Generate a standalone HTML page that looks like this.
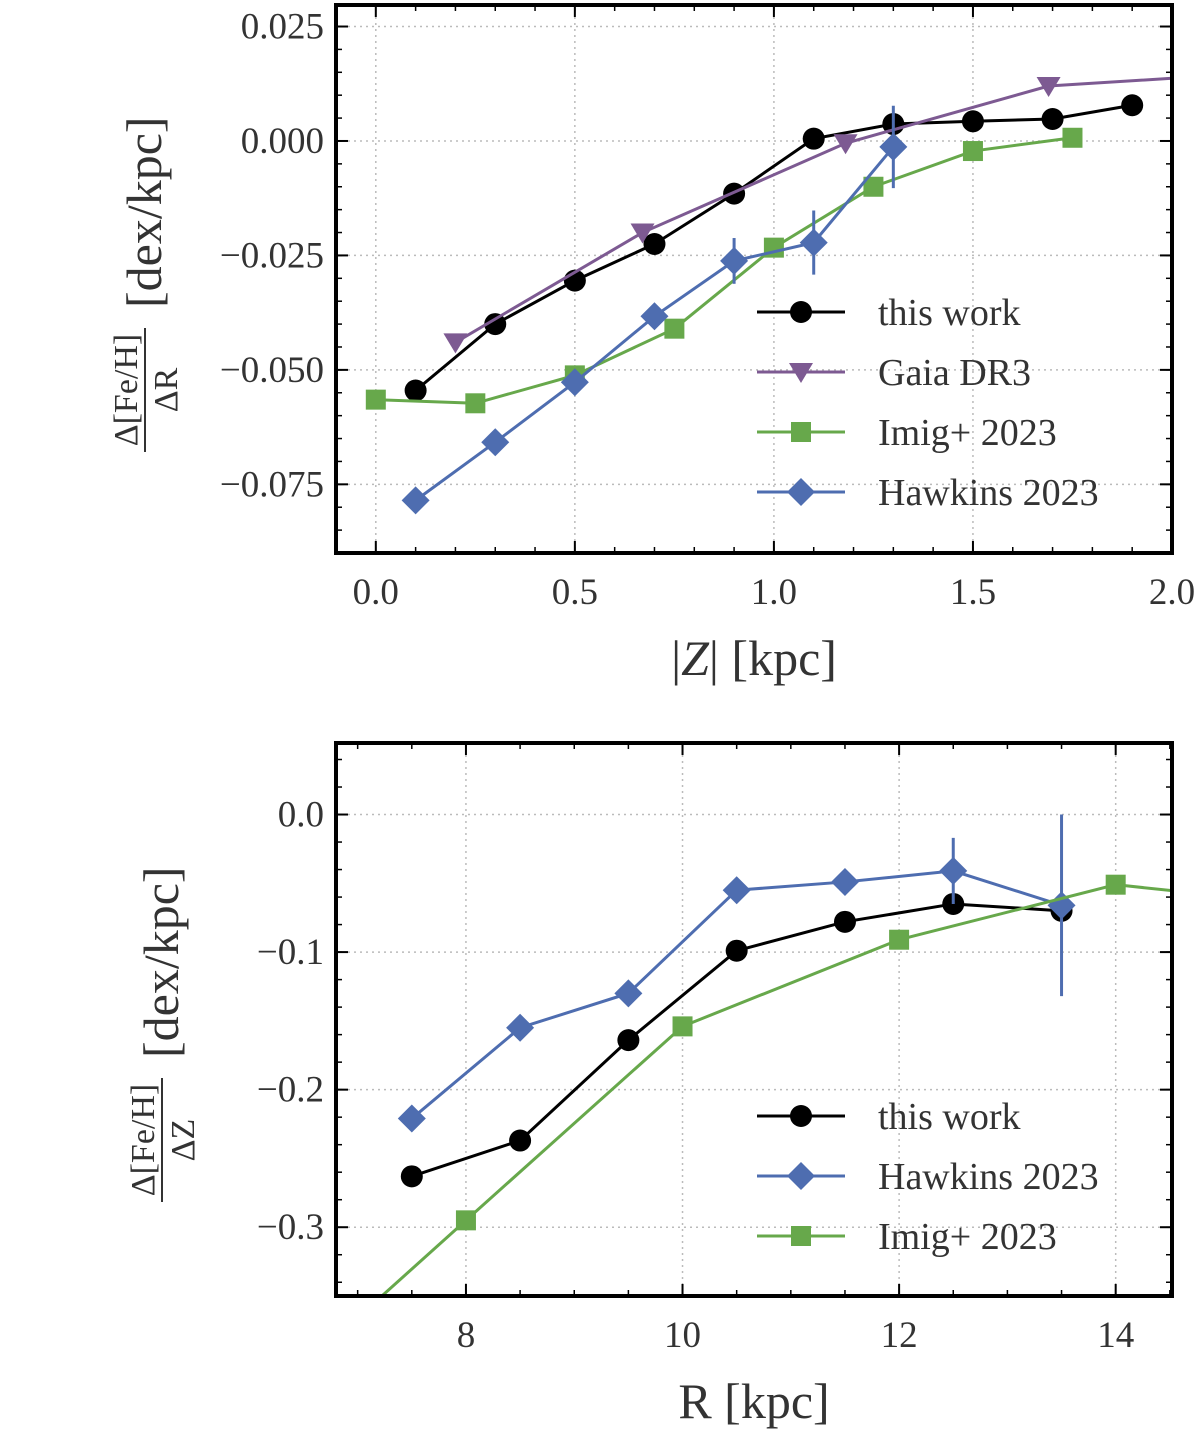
<!DOCTYPE html>
<html><head><meta charset="utf-8"><style>body{margin:0;background:#fff}svg{display:block}text{font-family:"Liberation Serif","DejaVu Serif",serif;fill:#333}</style></head>
<body>
<svg id="c" width="1200" height="1432" viewBox="0 0 1200 1432"></svg>
<script>
// ---- top panel data ----
const topThisX=[0.1,0.3,0.5,0.7,0.9,1.1,1.3,1.5,1.7,1.9];
const topThisY=[-0.0545,-0.0400,-0.0305,-0.0225,-0.0115,0.0005,0.0037,0.0043,0.0048,0.0078];
const topGaiaX=[0.2,0.67,1.18,1.69];
const topGaiaY=[-0.0440,-0.0200,-0.0005,0.0120];
const topGaiaTailX=[1.69,2.2];
const topGaiaTailY=[0.0120,0.0148];
const topImigX=[0.0,0.25,0.5,0.75,1.0,1.25,1.5,1.75];
const topImigY=[-0.0565,-0.0573,-0.0512,-0.0410,-0.0233,-0.0100,-0.0022,0.0007];
const topHawkX=[0.1,0.3,0.5,0.7,0.9,1.1,1.3];
const topHawkY=[-0.0785,-0.0658,-0.0527,-0.0383,-0.0262,-0.0222,-0.0013];
const topHawkErr=[0,0,0,0,0.005,0.007,0.009];
const topXTicks=[0,0.5,1.0,1.5,2.0];
const topXLabels=["0.0","0.5","1.0","1.5","2.0"];
const topYTicks=[0.025,0,-0.025,-0.05,-0.075];
const topYLabels=["0.025","0.000","\u22120.025","\u22120.050","\u22120.075"];
// ---- bottom panel data ----
const botThisX=[7.5,8.5,9.5,10.5,11.5,12.5,13.5];
const botThisY=[-0.263,-0.237,-0.164,-0.099,-0.078,-0.065,-0.070];
const botHawkX=[7.5,8.5,9.5,10.5,11.5,12.5,13.5];
const botHawkY=[-0.221,-0.155,-0.130,-0.055,-0.049,-0.041,-0.066];
const botHawkErr=[0,0,0,0,0,0.024,0.066];
const botImigX=[8.0,10.0,12.0,14.0];
const botImigY=[-0.295,-0.154,-0.091,-0.051];
const botImigLineX=[6.8,8.0,10.0,12.0,14.0,14.6];
const botImigLineY=[-0.38,-0.295,-0.154,-0.091,-0.051,-0.056];
const botXTicks=[8,10,12,14];
const botXLabels=["8","10","12","14"];
const botYTicks=[0,-0.1,-0.2,-0.3];
const botYLabels=["0.0","\u22120.1","\u22120.2","\u22120.3"];

const C={black:"#000",purple:"#7d5a92",green:"#67a84b",blue:"#4e6db0"};
const svg=document.getElementById('c');
const NS="http://www.w3.org/2000/svg";
function mk(tag,attrs,parent){const e=document.createElementNS(NS,tag);for(const k in attrs)e.setAttribute(k,attrs[k]);(parent||svg).appendChild(e);return e;}

function panel(P){
  const g=mk('g',{});
  
  
  const sx=v=>P.x0+(v-P.xmin)/(P.xmax-P.xmin)*(P.x1-P.x0);
  const sy=v=>P.y1-(v-P.ymin)/(P.ymax-P.ymin)*(P.y1-P.y0);
  const cid='clip'+P.name;
  const cp=mk('clipPath',{id:cid},g);mk('rect',{x:P.x0,y:P.y0,width:P.x1-P.x0,height:P.y1-P.y0},cp);
  P.xt.forEach(v=>{const l=mk('line',{x1:sx(v),x2:sx(v),y1:P.y0,y2:P.y1,stroke:'#bbb','stroke-width':1.5,'stroke-dasharray':'2,4'},g);});
  P.yt.forEach(v=>{const l=mk('line',{x1:P.x0,x2:P.x1,y1:sy(v),y2:sy(v),stroke:'#bbb','stroke-width':1.5,'stroke-dasharray':'2,4'},g);});
  for(let v=P.xmin;v<=P.xmax+1e-9;v+=P.xminor){const r=Math.round(v/P.xminor)*P.xminor;const X=sx(r);if(X<P.x0||X>P.x1)continue;mk('line',{x1:X,x2:X,y1:P.y1,y2:P.y1-6,stroke:'#000','stroke-width':1.5},g);mk('line',{x1:X,x2:X,y1:P.y0,y2:P.y0+6,stroke:'#000','stroke-width':1.5},g);}
  for(let v=Math.ceil(P.ymin/P.yminor)*P.yminor;v<=P.ymax+1e-9;v+=P.yminor){const Y=sy(v);mk('line',{x1:P.x0,x2:P.x0+6,y1:Y,y2:Y,stroke:'#000','stroke-width':1.5},g);mk('line',{x1:P.x1,x2:P.x1-6,y1:Y,y2:Y,stroke:'#000','stroke-width':1.5},g);}
  P.xt.forEach((v,i)=>{const X=sx(v);mk('line',{x1:X,x2:X,y1:P.y1,y2:P.y1-12,stroke:'#000','stroke-width':2},g);mk('line',{x1:X,x2:X,y1:P.y0,y2:P.y0+12,stroke:'#000','stroke-width':2},g);
    const t=mk('text',{x:X,y:P.y1+51,'text-anchor':'middle','font-size':37},g);t.textContent=P.xl[i];});
  P.yt.forEach((v,i)=>{const Y=sy(v);mk('line',{x1:P.x0,x2:P.x0+12,y1:Y,y2:Y,stroke:'#000','stroke-width':2},g);mk('line',{x1:P.x1,x2:P.x1-12,y1:Y,y2:Y,stroke:'#000','stroke-width':2},g);
    const t=mk('text',{x:P.x0-12,y:Y+12,'text-anchor':'end','font-size':37},g);t.textContent=P.yl[i];});
  const sg=mk('g',{'clip-path':'url(#'+cid+')'},g);
  P.series.forEach(s=>{
    const lx=s.lx||s.x, ly=s.ly||s.y;
    const pl=mk('polyline',{points:lx.map((v,i)=>sx(v)+','+sy(ly[i])).join(' '),fill:'none',stroke:s.c,'stroke-width':3},sg);
    
    if(s.err)s.x.forEach((v,i)=>{if(s.err[i]>0){const e=mk('line',{x1:sx(v),x2:sx(v),y1:sy(s.y[i]-s.err[i]),y2:sy(s.y[i]+s.err[i]),stroke:s.c,'stroke-width':3},sg);}});
    s.x.forEach((v,i)=>{const m=marker(sg,s.m,sx(v),sy(s.y[i]),s.c);});
  });
  mk('rect',{x:P.x0,y:P.y0,width:P.x1-P.x0,height:P.y1-P.y0,fill:'none',stroke:'#000','stroke-width':4},g);
  P.series.forEach((s,i)=>{const Y=P.ly+i*60;const lg=mk('g',{},g);
    mk('line',{x1:757,x2:845,y1:Y,y2:Y,stroke:s.c,'stroke-width':3},lg);marker(lg,s.m,801,Y,s.c);
    const t=mk('text',{x:878,y:Y+13,'font-size':38},lg);t.textContent=s.label;});
  const xt=mk('text',{x:(P.x0+P.x1)/2,y:P.y1+122,'text-anchor':'middle','font-size':50},g);xt.innerHTML=P.xlabel;
  const yg=mk('g',{transform:'translate('+P.ylx+','+P.yly+') rotate(-90)'},g);
  const a=mk('text',{x:0,y:-8,'text-anchor':'middle','font-size':34},yg);a.textContent='\u0394[Fe/H]';
  mk('line',{x1:-62,x2:62,y1:0,y2:0,stroke:'#333','stroke-width':2},yg);
  const b=mk('text',{x:0,y:32,'text-anchor':'middle','font-size':34},yg);b.textContent=P.den;
  const d=mk('text',{x:82,y:16,'text-anchor':'start','font-size':50},yg);d.textContent='[dex/kpc]';
}
function marker(p,m,x,y,c){
  if(m==='o')return mk('circle',{cx:x,cy:y,r:11,fill:c},p);
  if(m==='v')return mk('polygon',{points:`${x-12},${y-9} ${x+12},${y-9} ${x},${y+11}`,fill:c},p);
  if(m==='s')return mk('rect',{x:x-10,y:y-10,width:20,height:20,fill:c},p);
  return mk('polygon',{points:`${x},${y-14} ${x+14},${y} ${x},${y+14} ${x-14},${y}`,fill:c},p);
}
panel({name:'top-panel',x0:336,x1:1172,y0:5,y1:553,xmin:-0.1,xmax:2.0,ymin:-0.0900,ymax:0.0297,xminor:0.1,yminor:0.005,
  xt:topXTicks,xl:topXLabels,yt:topYTicks,yl:topYLabels,ly:312,xlabel:'|<tspan font-style="italic">Z</tspan>| [kpc]',ylx:145,yly:390,den:'\u0394R',
  series:[{n:'this-work',label:'this work',c:C.black,m:'o',x:topThisX,y:topThisY},
  {n:'gaia-dr3',label:'Gaia DR3',c:C.purple,m:'v',x:topGaiaX,y:topGaiaY,lx:topGaiaX.concat(topGaiaTailX.slice(1)),ly:topGaiaY.concat(topGaiaTailY.slice(1))},
  {n:'imig-2023',label:'Imig+ 2023',c:C.green,m:'s',x:topImigX,y:topImigY},
  {n:'hawkins-2023',label:'Hawkins 2023',c:C.blue,m:'d',x:topHawkX,y:topHawkY,err:topHawkErr}]});
panel({name:'bottom-panel',x0:336,x1:1172,y0:743,y1:1296,xmin:6.8,xmax:14.52,ymin:-0.35,ymax:0.052,xminor:0.5,yminor:0.02,
  xt:botXTicks,xl:botXLabels,yt:botYTicks,yl:botYLabels,ly:1116,xlabel:'R [kpc]',ylx:162,yly:1140,den:'\u0394Z',
  series:[{n:'this-work',label:'this work',c:C.black,m:'o',x:botThisX,y:botThisY},
  {n:'hawkins-2023',label:'Hawkins 2023',c:C.blue,m:'d',x:botHawkX,y:botHawkY,err:botHawkErr},
  {n:'imig-2023',label:'Imig+ 2023',c:C.green,m:'s',x:botImigX,y:botImigY,lx:botImigLineX,ly:botImigLineY}]});
</script>
</body></html>
